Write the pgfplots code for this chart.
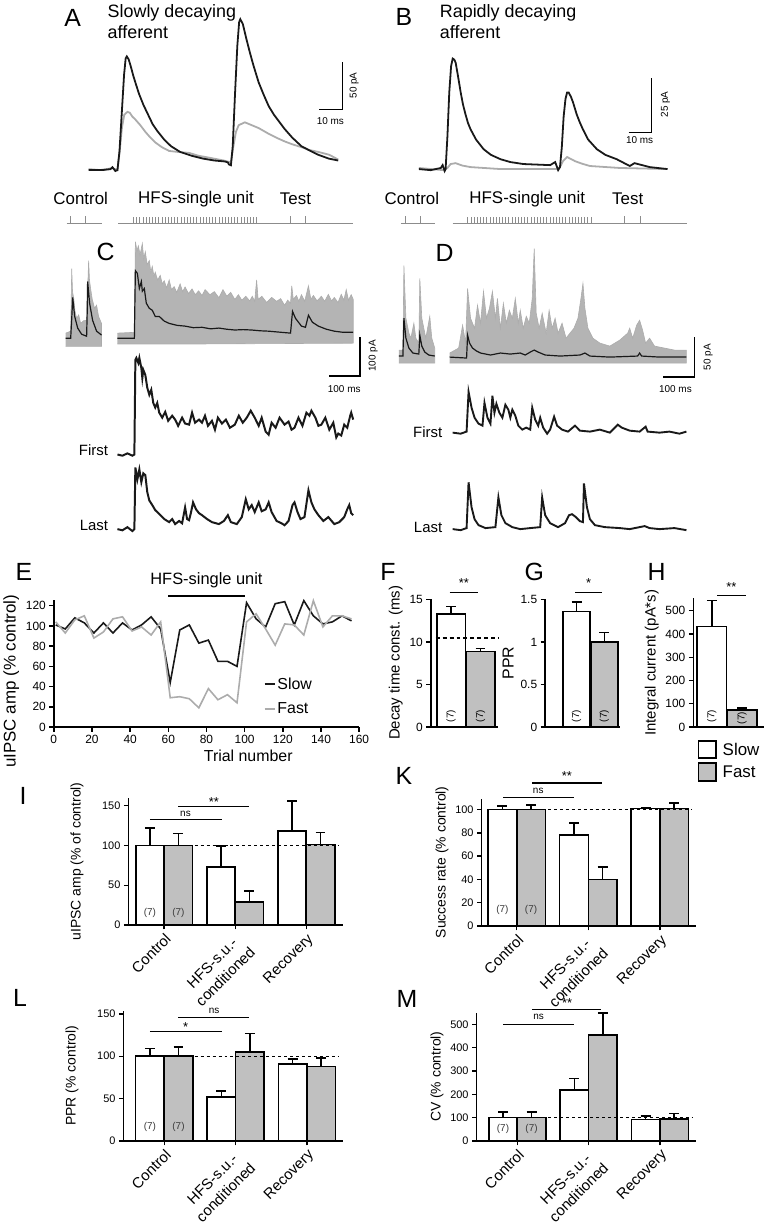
\documentclass[border=0pt]{standalone}
\usepackage{fontspec}
\setmainfont{Liberation Sans}
\usepackage{pgfplots}
\pgfplotsset{compat=1.18}

\definecolor{ink}{RGB}{25,25,25}
\definecolor{trgray}{RGB}{172,172,172}
\definecolor{trfill}{RGB}{180,180,180}
\definecolor{protgray}{RGB}{140,140,140}
\definecolor{bargray}{RGB}{192,192,192}
\newcommand{\fs}[1]{\fontsize{#1}{#1}\selectfont}

\pgfplotsset{
  every axis/.append style={/pgf/number format/assume math mode=true},
  trace/.style={hide axis, clip=false, anchor=south west, xmin=0},
  panel/.style={scale only axis, anchor=south west, clip=false,
    axis x line=bottom, axis y line=left,
    axis line style={-, line width=1.5pt, black},
    tick align=outside, major tick length=4.5pt,
    tick style={black, line width=1.4pt},
    tick label style={font=\fs{11}}, label style={font=\fs{14}}},
  cats/.style={xtick={0,1,2},
    xticklabels={Control,{HFS-s.u.-\\conditioned},Recovery},
    x tick label style={rotate=45, anchor=north east, align=center,
      font=\fontsize{15}{19}\selectfont, inner sep=2pt}},
  wbar/.style={ybar, bar shift=0pt, fill=white, draw=black, line width=1.6pt,
    error bars/y dir=plus, error bars/y explicit,
    error bars/error mark=-,
    error bars/error bar style={line width=1.5pt, black},
    error bars/error mark options={rotate=90, line width=1.5pt, mark size=5pt, black}},
  gbar/.style={wbar, fill=bargray},
  sig/.style={black, line width=1.4pt},
}

\begin{document}
\begin{tikzpicture}
\path (0pt,0pt) rectangle (776pt,1226pt);

% ---------------- panel letters and headings
\node[font=\fs{25}] at (70pt,1208pt) {A};
\node[font=\fs{25}] at (403pt,1209pt) {B};
\node[font=\fs{25}] at (103pt,973pt) {C};
\node[font=\fs{25}] at (444pt,972pt) {D};
\node[font=\fs{25}] at (21pt,651pt) {E};
\node[font=\fs{25}] at (387pt,651pt) {F};
\node[font=\fs{25}] at (534pt,651pt) {G};
\node[font=\fs{25}] at (657pt,651pt) {H};
\node[font=\fs{25}] at (20pt,426pt) {I};
\node[font=\fs{25}] at (403pt,446pt) {K};
\node[font=\fs{25}] at (17pt,223pt) {L};
\node[font=\fs{25}] at (406pt,222pt) {M};

\node[anchor=north west, align=left, font=\fontsize{18}{21}\selectfont, inner sep=0pt]
  at (105pt,1222pt) {Slowly decaying\\afferent};
\node[anchor=north west, align=left, font=\fontsize{18}{21}\selectfont, inner sep=0pt]
  at (439pt,1222pt) {Rapidly decaying\\afferent};

% ---------------- A: example uIPSCs
\begin{axis}[trace, at={(86pt,1045.4pt)}, x=2.3pt, y=0.96pt, xmax=120, ymin=-10, ymax=165]
\addplot[trgray, line width=1.8pt] coordinates {(0,1)(5,0)(10.4,2)(12.6,0)(13.6,20)(14.6,45)(15.6,58)(17,61)(18,60)(19.1,56)(20.4,53)(21.5,50)(22.6,47)(24.8,40)(27,34)(29.1,29)(32,24)(35.2,20)(39,19)(43.9,18)(48,15)(52.6,13)(59.1,10)(62.2,8)(63.3,25)(64.4,40)(65.6,47)(68.3,50)(71.3,47)(74.3,44)(76.5,41)(78.7,38)(82,34)(85.7,30)(89,27)(93,24)(96.5,21)(100.4,19)(105.2,16)(109.1,11)};
\addplot[ink, line width=1.8pt] coordinates {(0,0)(6.1,0)(9.6,1)(10.4,3)(11.7,-1)(12.6,0)(13.5,20)(14.5,60)(15.5,100)(16.2,117)(16.7,119)(17.5,116)(18.5,108)(19.5,99)(20.4,92)(22,80)(24,68)(26,58)(28,48)(30,41)(33,32)(36,25)(40,19)(45,15)(50,12)(55,10)(59.6,9)(60.9,8)(61.3,6)(62.2,5)(63,25)(64,80)(65,130)(65.8,155)(66.3,158)(67.4,153)(69,137)(70.5,123)(72,110)(74.3,92)(76.5,79)(78.7,67)(81,58)(83.5,50)(85.7,43)(89,34)(93,25)(97,20)(100.4,16)(105,12)(109.1,10)};
\addplot[black, line width=1.3pt] coordinates {(100.9,63.5)(110.9,63.5)(110.9,113.5)};
\end{axis}
\node[rotate=90, font=\fs{10}] at (353pt,1140pt) {50 pA};
\node[font=\fs{10}] at (329pt,1104pt) {10 ms};

% ---------------- B
\begin{axis}[trace, at={(418pt,1045pt)}, x=2.3pt, y=2.2pt, xmax=120, ymin=-5, ymax=55]
\addplot[trgray, line width=1.8pt] coordinates {(0,0.5)(10.9,-0.5)(12.5,0.5)(13.9,2.3)(16.1,2.7)(19,1.6)(22.6,0.9)(35.7,0)(60.9,0)(62,1.5)(63,3.6)(64.8,5.5)(66.5,4.6)(68.3,3.6)(71.5,2.4)(74.8,1.4)(87.8,0.5)(108.7,0)};
\addplot[ink, line width=1.8pt] coordinates {(0,0)(5.2,-0.5)(9.6,0.5)(10.4,1.8)(11.3,-0.9)(11.7,0)(12.5,15)(13.3,35)(14.1,47)(14.8,50.5)(15.5,50)(16.1,48.6)(17.2,42)(18.3,35)(19.3,29.5)(20.4,25)(21.5,21)(22.6,18.2)(25,13.5)(28.3,9.1)(31.5,6.5)(35.7,4.5)(40,3.2)(45.7,2.3)(57.4,1.8)(59.6,3.2)(60.9,-0.5)(61.7,0.9)(62.5,10)(63.3,24)(64.1,32)(64.8,35)(65.5,35)(66.5,33)(67.4,30.5)(69,25)(70.3,21.5)(71.7,18.2)(74,13.5)(77.8,9.1)(81.5,6.5)(86.5,4.5)(92.2,1.4)(94.3,2.7)(100.9,0.9)(108.7,0)};
\addplot[black, line width=1.3pt] coordinates {(91.7,16.8)(101.7,16.8)(101.7,41.8)};
\end{axis}
\node[rotate=90, font=\fs{10}] at (666pt,1121pt) {25 pA};
\node[font=\fs{10}] at (640pt,1085pt) {10 ms};

% ---------------- stimulation protocols
\node[font=\fs{17}] at (78pt,1026pt) {Control};
\node[font=\fs{17}] at (194pt,1026pt) {HFS-single unit};
\node[font=\fs{17}] at (294pt,1026pt) {Test};
\node[font=\fs{17}] at (411pt,1026pt) {Control};
\node[font=\fs{17}] at (527pt,1026pt) {HFS-single unit};
\node[font=\fs{17}] at (628pt,1026pt) {Test};
\begin{axis}[trace, at={(0pt,1001pt)}, x=1pt, y=1pt, xmax=776, ymin=0, ymax=10]
\addplot[protgray, line width=0.8pt] coordinates {(64,0)(99,0)};
\addplot[protgray, line width=0.8pt] coordinates {(116,0)(352,0)};
\addplot[protgray, line width=0.8pt] coordinates {(400,0)(434,0)};
\addplot[protgray, line width=0.8pt] coordinates {(452,0)(688,0)};
\addplot[ycomb, protgray, line width=0.6pt] coordinates {(68,8)(83,8)(289,8)(304,8)(404,8)(419,8)(625,8)(641,8)};
\addplot[ycomb, protgray, line width=0.5pt] coordinates {(131,7)(134.2,7)(137.4,7)(140.5,7)(143.7,7)(146.9,7)(150.1,7)(153.3,7)(156.4,7)(159.6,7)(162.8,7)(166,7)(169.2,7)(172.3,7)(175.5,7)(178.7,7)(181.9,7)(185.1,7)(188.2,7)(191.4,7)(194.6,7)(197.8,7)(201,7)(204.1,7)(207.3,7)(210.5,7)(213.7,7)(216.9,7)(220,7)(223.2,7)(226.4,7)(229.6,7)(232.8,7)(235.9,7)(239.1,7)(242.3,7)(245.5,7)(248.7,7)(251.8,7)(255,7)};
\addplot[ycomb, protgray, line width=0.5pt] coordinates {(467,7)(470.2,7)(473.4,7)(476.5,7)(479.7,7)(482.9,7)(486.1,7)(489.3,7)(492.4,7)(495.6,7)(498.8,7)(502,7)(505.2,7)(508.3,7)(511.5,7)(514.7,7)(517.9,7)(521.1,7)(524.2,7)(527.4,7)(530.6,7)(533.8,7)(537,7)(540.1,7)(543.3,7)(546.5,7)(549.7,7)(552.9,7)(556,7)(559.2,7)(562.4,7)(565.6,7)(568.8,7)(571.9,7)(575.1,7)(578.3,7)(581.5,7)(584.7,7)(587.8,7)(591,7)};
\end{axis}

% ---------------- C: overlay of trials
\begin{axis}[trace, at={(63pt,874.3pt)}, x=0.31pt, y=0.39pt, xmax=1000, ymin=-30, ymax=260]
\addplot[fill=trfill, draw=trgray, line width=0.6pt] coordinates {(0,13)(16,18)(19.4,179)(22,120)(25.8,103)(30,70)(35.5,51)(42,60)(48.4,38)(58,45)(67.7,46)(74.2,200)(77,150)(80.6,128)(86,100)(93.5,77)(100,85)(106.5,56)(116,38)(116,-21)(0,-21)};
\addplot[fill=trfill, draw=trgray, line width=0.6pt] coordinates {(167.7,13)(222.6,15)(225.8,249)(231,225)(235.5,238)(241,215)(248.4,244)(253,205)(258.1,223)(264,190)(271,200)(276,170)(280.6,185)(286,160)(290.3,170)(298,150)(306.5,162)(313,140)(319.4,148)(327,130)(335.5,150)(343,125)(351.6,133)(360,118)(371,140)(379,120)(387.1,132)(398,115)(409.7,127)(420,112)(431,122)(441.9,110)(452,125)(467.7,112)(482,120)(496.8,104)(510,125)(522.6,108)(535,118)(548.4,100)(560,112)(571,98)(584,108)(596.8,96)(605,108)(612.9,95)(619,150)(624,100)(636,108)(651.6,92)(668,105)(683.9,95)(697,102)(709.7,85)(720,98)(729,90)(733,135)(738,100)(748.4,110)(756,95)(764.5,112)(775,95)(787.1,135)(795,100)(803.2,110)(815,96)(829,108)(840,95)(851.6,113)(862,96)(871,105)(883,92)(893.5,113)(902,98)(909.7,125)(917,98)(925.8,112)(932.3,100)(932.3,-13)(441.9,-15)(225.8,-15)(167.7,-15)};
\addplot[ink, line width=1.2pt] coordinates {(0,0)(16,0)(19.4,50)(22.6,105)(29,56)(38.7,26)(51.6,10)(67.7,5)(69.4,60)(71,146)(77.4,90)(87.1,46)(100,18)(116,8)};
\addplot[ink, line width=1.2pt] coordinates {(167.7,0)(222.6,0)(225.8,174)(232.3,167)(238.7,128)(245.2,146)(248.4,121)(254.8,128)(261.3,90)(271,77)(280.6,72)(290.3,56)(303.2,56)(319.4,44)(335.5,38)(361.3,33)(387.1,31)(414,27)(441.9,28)(470,24)(496.8,26)(522,23)(548.4,21)(575,22)(603.2,21)(630,19)(658.1,18)(700,15)(729,13)(735.5,69)(745.2,51)(764.5,31)(777.4,28)(787.1,59)(800,41)(819.4,31)(845.2,23)(871,18)(900,15)(932.3,15)};
\addplot[black, line width=1.3pt] coordinates {(854.8,-97.4)(954.8,-97.4)(954.8,2.6)};
\end{axis}
\node[rotate=90, font=\fs{10}] at (372pt,868pt) {100 pA};
\node[font=\fs{10}] at (343pt,835pt) {100 ms};

\node[anchor=east, font=\fs{15}] at (109pt,773pt) {First};
\begin{axis}[trace, at={(63pt,765.1pt)}, x=0.31pt, y=0.39pt, xmax=1000, ymin=-10, ymax=260]
\addplot[ink, line width=2pt] coordinates {(167.7,0)(183.9,-3)(200,3)(216.1,-3)(222.6,0)(225.8,244)(229,249)(235.5,236)(238.7,249)(245.2,223)(248.4,197)(251.6,218)(258.1,205)(264.5,172)(271,154)(277.4,167)(283.9,133)(290.3,121)(296.8,133)(303.2,108)(312.9,95)(322.6,110)(332.3,87)(345.2,100)(354.8,90)(364.5,74)(377.4,95)(387.1,80)(400,77)(409.7,108)(419.4,82)(432.3,90)(441.9,82)(451.6,100)(461.3,74)(474.2,87)(483.9,64)(493.5,95)(506.5,80)(519.4,90)(532.3,69)(548.4,77)(561.3,100)(574.2,82)(587.1,95)(600,113)(612.9,95)(625.8,74)(635.5,95)(648.4,59)(658.1,51)(667.7,82)(680.6,69)(693.5,95)(709.7,77)(722.6,85)(732.3,64)(741.9,69)(754.8,95)(767.7,74)(780.6,108)(790.3,100)(796.8,113)(809.7,95)(819.4,74)(829,77)(841.9,95)(854.8,64)(867.7,82)(877.4,44)(883.9,54)(893.5,49)(903.2,77)(912.9,69)(922.6,100)(925.8,108)(932.3,90)};
\end{axis}

\node[anchor=east, font=\fs{15}] at (109pt,698pt) {Last};
\begin{axis}[trace, at={(63pt,690.1pt)}, x=0.31pt, y=0.39pt, xmax=1000, ymin=-10, ymax=170]
\addplot[ink, line width=2pt] coordinates {(167.7,0)(183.9,-3)(200,5)(216.1,-5)(222.6,0)(225.8,159)(232.3,128)(238.7,154)(245.2,121)(251.6,144)(258.1,139)(264.5,95)(271,74)(280.6,62)(290.3,49)(303.2,39)(319.4,26)(335.5,18)(345.2,26)(354.8,13)(367.7,21)(377.4,15)(387.1,56)(393.5,26)(400,23)(406.5,44)(412.9,69)(422.6,51)(432.3,41)(441.9,36)(458.1,26)(474.2,18)(496.8,13)(512.9,21)(525.8,36)(535.5,18)(554.8,13)(571,31)(583.9,77)(593.5,51)(603.2,62)(612.9,44)(625.8,69)(635.5,46)(648.4,51)(658.1,69)(667.7,44)(683.9,21)(700,15)(709.7,10)(722.6,21)(735.5,62)(741.9,69)(751.6,44)(761.3,26)(774.2,31)(787.1,100)(796.8,69)(806.5,51)(819.4,36)(835.5,21)(851.6,31)(871,13)(887.1,18)(903.2,31)(912.9,51)(919.4,62)(925.8,41)(932.3,36)};
\end{axis}

% ---------------- D
\begin{axis}[trace, at={(398pt,844pt)}, x=0.31pt, y=0.8pt, xmax=1000, ymin=-30, ymax=140]
\addplot[fill=trfill, draw=trgray, line width=0.6pt] coordinates {(0,7.5)(12.9,7.5)(16.1,113.8)(22.6,47.5)(32.3,28.8)(38.7,22.5)(48.4,41.3)(54.8,22.5)(64.5,16.3)(67.7,97.5)(74.2,47.5)(87.1,22.5)(100,50)(106.5,22.5)(116.1,10)(116.1,-8.8)(0,-8.8)};
\addplot[fill=trfill, draw=trgray, line width=0.6pt] coordinates {(164.5,3.8)(193.6,10)(206.5,38.8)(216.1,16.3)(222.6,85)(232.3,47.5)(245.2,35)(254.8,63.8)(264.5,41.3)(274.2,81.3)(283.9,47.5)(293.5,60)(303.2,81.3)(312.9,47.5)(319.4,72.5)(329,35)(338.7,66.3)(348.4,41.3)(358.1,57.5)(367.7,47.5)(377.4,72.5)(387.1,41.3)(393.5,57.5)(403.2,35)(412.9,50)(422.6,41.3)(432.3,72.5)(438.7,135)(445.2,53.8)(454.8,35)(464.5,53.8)(477.4,28.8)(487.1,57.5)(496.8,35)(506.5,47.5)(516.1,28.8)(529,41.3)(541.9,22.5)(554.8,28.8)(567.7,35)(580.6,47.5)(590.3,72.5)(596.8,91.3)(603.2,60)(612.9,35)(629,22.5)(651.6,16.3)(683.9,12.5)(716.1,20)(741.9,28.8)(748.4,35)(758.1,22.5)(771,38.8)(780.6,45)(790.3,32.5)(800,16.3)(812.9,22.5)(829,12.5)(861.3,10)(893.5,7.5)(932.3,7.5)(932.3,-8.8)(164.5,-8.8)};
\addplot[ink, line width=1.2pt] coordinates {(0,0)(12.9,0)(16.1,47.5)(22.6,22.5)(32.3,10)(45.2,3.8)(64.5,2.5)(67.7,26.3)(74.2,12.5)(83.9,5)(96.8,1.3)(116.1,0)};
\addplot[ink, line width=1.2pt] coordinates {(164.5,-1.3)(219.4,-2.5)(222.6,26.3)(229,16.3)(238.7,10)(251.6,6.3)(264.5,3.8)(296.8,1.3)(329,3.8)(361.3,2.5)(393.5,3.8)(409.7,1.3)(425.8,5)(438.7,7.5)(451.6,5)(474.2,1.3)(522.6,0)(587.1,1.3)(603.2,3.8)(619.4,0)(683.9,-1.3)(774.2,0)(780.6,3.8)(787.1,0)(845.2,-1.3)(932.3,-1.3)};
\addplot[black, line width=1.3pt] coordinates {(858,-26.3)(958,-26.3)(958,23.7)};
\end{axis}
\node[rotate=90, font=\fs{10}] at (709pt,867pt) {50 pA};
\node[font=\fs{10}] at (676pt,835pt) {100 ms};

\node[anchor=east, font=\fs{15}] at (445pt,791pt) {First};
\begin{axis}[trace, at={(398pt,783pt)}, x=0.31pt, y=0.8pt, xmax=1000, ymin=-10, ymax=60]
\addplot[ink, line width=1.9pt] coordinates {(174.2,0)(200,-1.3)(219.4,1.3)(225.8,51.3)(235.5,31.3)(245.2,18.8)(258.1,11.3)(271,8.8)(277.4,37.5)(287.1,18.8)(296.8,11.3)(303.2,46.3)(309.7,25)(316.1,36.3)(325.8,25)(335.5,18.8)(345.2,35)(354.8,28.8)(361.3,18.8)(367.7,28.8)(377.4,21.3)(387.1,8.8)(400,3.8)(412.9,6.3)(425.8,3.8)(432.3,31.3)(441.9,16.3)(451.6,8.8)(458.1,18.8)(467.7,6.3)(480.6,-1.3)(490.3,3.8)(503.2,20)(512.9,8.8)(529,3.8)(548.4,1.3)(571,8.8)(587.1,2.5)(619.4,1.3)(651.6,3.8)(683.9,0)(709.7,10)(722.6,6.3)(748.4,2.5)(780.6,1.3)(800,7.5)(806.5,1.3)(845.2,0)(877.4,1.3)(909.7,-1.3)(932.3,1.3)};
\end{axis}

\node[anchor=east, font=\fs{15}] at (445pt,696pt) {Last};
\begin{axis}[trace, at={(398pt,686pt)}, x=0.31pt, y=0.8pt, xmax=1000, ymin=-10, ymax=65]
\addplot[ink, line width=1.9pt] coordinates {(174.2,0)(200,-1.3)(219.4,1.3)(225.8,58.8)(235.5,27.5)(245.2,12.5)(258.1,5)(280.6,1.3)(312.9,2.5)(322.6,40)(332.3,17.5)(345.2,7.5)(367.7,2.5)(393.5,0)(425.8,1.3)(458.1,2.5)(464.5,40)(474.2,17.5)(490.3,7.5)(516.1,2.5)(538.7,7.5)(551.6,17.5)(561.3,18.8)(574.2,15)(587.1,10)(596.8,8.8)(600,57.5)(609.7,27.5)(619.4,12.5)(635.5,5)(667.7,2.5)(716.1,1.3)(748.4,0)(780.6,2.5)(796.8,3.8)(812.9,1.3)(845.2,0)(893.5,1.3)(932.3,-1.3)};
\end{axis}

% ---------------- E: time course
\begin{axis}[panel, at={(51pt,495pt)}, width=307pt, height=128pt,
  xmin=0, xmax=160, ymin=0, ymax=125.9,
  xtick={0,20,...,160}, ytick={0,20,...,120},
  tick label style={font=\fs{12}},
  xlabel={Trial number}, ylabel={uIPSC amp (\% control)},
  xlabel style={font=\fs{16}, xshift=42pt},
  ylabel style={font=\fs{17}, at={(ticklabel cs:0.36)}},
  legend style={draw=none, fill=none, at={(axis cs:110,51)}, anchor=north west,
    font=\fs{16}, row sep=8pt, inner sep=0pt},
  legend cell align=left,
  legend image code/.code={\draw[#1] (0pt,0pt) -- (10pt,0pt);}]
\addplot[ink, line width=1.6pt] coordinates {(1,101)(6,97)(11,108)(16,103)(21,93)(26,103)(31,93)(36,103)(41,96)(46,101)(51,109)(56,97)(61,44)(66,96)(71,101)(76,83)(81,86)(86,65)(91,65)(96,60)(101,123)(106,107)(111,99)(116,122)(121,124)(126,101)(131,125)(136,110)(141,102)(146,104)(151,110)(156,105)};
\addlegendentry{Slow}
\addplot[trgray, line width=1.6pt] coordinates {(1,104)(6,93)(11,106)(16,110)(21,88)(26,94)(31,107)(36,109)(41,95)(46,99)(51,91)(56,104)(61,29)(66,30)(71,28)(76,19)(81,38)(86,27)(91,32)(96,24)(101,104)(106,112)(111,97)(116,81)(121,102)(126,101)(131,91)(136,125)(141,99)(146,110)(151,110)(156,107)};
\addlegendentry{Fast}
\addplot[black, line width=2pt, forget plot] coordinates {(60,129.8)(100,129.8)};
\node[font=\fs{16.5}] at (axis cs:80,145.6) {HFS-single unit};
\end{axis}

% ---------------- F: decay time constant
\begin{axis}[panel, at={(430pt,495pt)}, width=68pt, height=129pt,
  xmin=0.305, xmax=2.61, ymin=0, ymax=15.1, xtick=\empty, ytick={0,5,10,15},
  tick label style={font=\fs{12}}, label style={font=\fs{15}},
  ylabel={Decay time const. (ms)}]
\addplot[wbar, bar width=0.98] coordinates {(1,13.3) +- (0,0.9)};
\addplot[gbar, bar width=0.98] coordinates {(2,8.9) +- (0,0.36)};
\addplot[black, line width=1.4pt, dash pattern=on 4pt off 3pt] coordinates {(0.47,10.5)(2.61,10.5)};
\addplot[sig] coordinates {(0.95,15.8)(1.9,15.8)};
\node[font=\fs{13}] at (axis cs:1.43,17) {**};
\node[rotate=90, font=\fs{10}] at (axis cs:1,1.3) {(7)};
\node[rotate=90, font=\fs{10}] at (axis cs:2,1.3) {(7)};
\end{axis}

% ---------------- G: paired-pulse ratio
\begin{axis}[panel, at={(545pt,495pt)}, width=75pt, height=129pt,
  xmin=-0.125, xmax=2.55, ymin=0, ymax=1.51, xtick=\empty,
  ytick={0,0.5,1,1.5}, yticklabels={0,0.5,1,1.5},
  tick label style={font=\fs{12}}, label style={font=\fs{16}},
  ylabel={PPR}]
\addplot[wbar, bar width=0.98] coordinates {(1,1.36) +- (0,0.11)};
\addplot[gbar, bar width=0.98] coordinates {(2,1.0) +- (0,0.11)};
\addplot[sig] coordinates {(0.95,1.58)(1.91,1.58)};
\node[font=\fs{13}] at (axis cs:1.43,1.69) {*};
\node[rotate=90, font=\fs{10}] at (axis cs:1,0.13) {(7)};
\node[rotate=90, font=\fs{10}] at (axis cs:2,0.13) {(7)};
\end{axis}

% ---------------- H: integral current
\begin{axis}[panel, at={(694pt,495pt)}, width=71pt, height=129.3pt,
  xmin=0.393, xmax=2.72, ymin=0, ymax=553, xtick=\empty,
  ytick={0,100,...,500},
  tick label style={font=\fs{12}}, label style={font=\fs{15}},
  ylabel={Integral current (pA*s)}]
\addplot[wbar, bar width=0.97] coordinates {(1,432) +- (0,112)};
\addplot[gbar, bar width=0.97] coordinates {(2,73) +- (0,9)};
\addplot[sig] coordinates {(1.18,565)(2.13,565)};
\node[font=\fs{13}] at (axis cs:1.65,602) {**};
\node[rotate=90, font=\fs{10}] at (axis cs:1,47) {(7)};
\node[rotate=90, font=\fs{10}] at (axis cs:2,38) {(7)};
\end{axis}
\draw[line width=1.5pt, fill=white] (699pt,464pt) rectangle (717pt,481pt);
\draw[line width=1.5pt, fill=bargray] (699pt,441pt) rectangle (717pt,459pt);
\node[anchor=west, font=\fs{17}] at (720pt,472.5pt) {Slow};
\node[anchor=west, font=\fs{17}] at (720pt,450pt) {Fast};

% ---------------- I: uIPSC amplitude
\begin{axis}[panel, cats, at={(126pt,296pt)}, width=216pt, height=128pt,
  xmin=-0.503, xmax=2.52, ymin=0, ymax=160, ytick={0,50,100,150},
  ylabel={uIPSC amp (\% of control)}, ylabel shift=12pt]
\addplot[wbar, bar width=0.4] coordinates {(-0.2,100) +- (0,22) (0.8,73) +- (0,26) (1.8,118) +- (0,38)};
\addplot[gbar, bar width=0.4] coordinates {(0.2,100) +- (0,15) (1.2,29) +- (0,14) (2.2,101) +- (0,15)};
\addplot[black, line width=1.4pt, dash pattern=on 3pt off 3pt] coordinates {(-0.41,100)(2.45,100)};
\addplot[sig] coordinates {(-0.2,132.5)(0.81,132.5)};
\node[font=\fs{10}] at (axis cs:0.3,140) {ns};
\addplot[sig] coordinates {(0.2,148.8)(1.19,148.8)};
\node[font=\fs{13}] at (axis cs:0.7,155) {**};
\node[font=\fs{10}, text=ink!85] at (axis cs:-0.2,15) {(7)};
\node[font=\fs{10}, text=ink!85] at (axis cs:0.2,15) {(7)};
\end{axis}

% ---------------- K: success rate
\begin{axis}[panel, cats, at={(481pt,295pt)}, width=216pt, height=128pt,
  xmin=-0.493, xmax=2.51, ymin=0, ymax=109.4, ytick={0,20,...,100},
  ylabel={Success rate (\% control)}]
\addplot[wbar, bar width=0.4] coordinates {(-0.2,100) +- (0,3) (0.8,78) +- (0,10.6) (1.8,101) +- (0,1)};
\addplot[gbar, bar width=0.4] coordinates {(0.2,100) +- (0,4) (1.2,40) +- (0,10.6) (2.2,101) +- (0,4.7)};
\addplot[black, line width=1.4pt, dash pattern=on 3pt off 3pt] coordinates {(-0.4,100)(2.45,100)};
\addplot[sig] coordinates {(-0.19,110.3)(0.8,110.3)};
\node[font=\fs{10}] at (axis cs:0.3,116.5) {ns};
\addplot[sig] coordinates {(0.215,123)(1.19,123)};
\node[font=\fs{13}] at (axis cs:0.7,128.5) {**};
\node[font=\fs{10}, text=ink!85] at (axis cs:-0.2,13.7) {(7)};
\node[font=\fs{10}, text=ink!85] at (axis cs:0.2,13.7) {(7)};
\end{axis}

% ---------------- L: PPR
\begin{axis}[panel, cats, at={(121pt,79pt)}, width=221pt, height=131pt,
  xmin=-0.572, xmax=2.51, ymin=0, ymax=154, ytick={0,50,100,150},
  ylabel={PPR (\% control)}, ylabel shift=12pt]
\addplot[wbar, bar width=0.4] coordinates {(-0.2,100) +- (0,9) (0.8,52) +- (0,7) (1.8,91) +- (0,5.5)};
\addplot[gbar, bar width=0.4] coordinates {(0.2,100) +- (0,11) (1.2,105) +- (0,22) (2.2,88) +- (0,9.6)};
\addplot[black, line width=1.4pt, dash pattern=on 3pt off 3pt] coordinates {(-0.41,100)(2.45,100)};
\addplot[sig] coordinates {(-0.2,129.4)(0.81,129.4)};
\node[font=\fs{13}] at (axis cs:0.3,135) {*};
\addplot[sig] coordinates {(0.2,145.9)(1.19,145.9)};
\node[font=\fs{10}] at (axis cs:0.7,154) {ns};
\node[font=\fs{10}, text=ink!85] at (axis cs:-0.2,16.5) {(7)};
\node[font=\fs{10}, text=ink!85] at (axis cs:0.2,16.5) {(7)};
\end{axis}

% ---------------- M: CV
\begin{axis}[panel, cats, at={(476pt,79pt)}, width=221pt, height=129pt,
  xmin=-0.571, xmax=2.51, ymin=0, ymax=551, ytick={0,100,...,500},
  ylabel={CV (\% control)}]
\addplot[wbar, bar width=0.4] coordinates {(-0.2,100) +- (0,24) (0.8,218) +- (0,50) (1.8,91) +- (0,16)};
\addplot[gbar, bar width=0.4] coordinates {(0.2,100) +- (0,24) (1.2,455) +- (0,93) (2.2,93) +- (0,24)};
\addplot[black, line width=1.4pt, dash pattern=on 3pt off 3pt] coordinates {(-0.4,100)(2.45,100)};
\addplot[sig] coordinates {(-0.195,500)(0.79,500)};
\node[font=\fs{10}] at (axis cs:0.3,533) {ns};
\addplot[sig] coordinates {(0.21,564)(1.18,564)};
\node[font=\fs{13}] at (axis cs:0.7,592) {**};
\node[font=\fs{10}, text=ink!85] at (axis cs:-0.2,51) {(7)};
\node[font=\fs{10}, text=ink!85] at (axis cs:0.2,51) {(7)};
\end{axis}

\end{tikzpicture}
\end{document}
